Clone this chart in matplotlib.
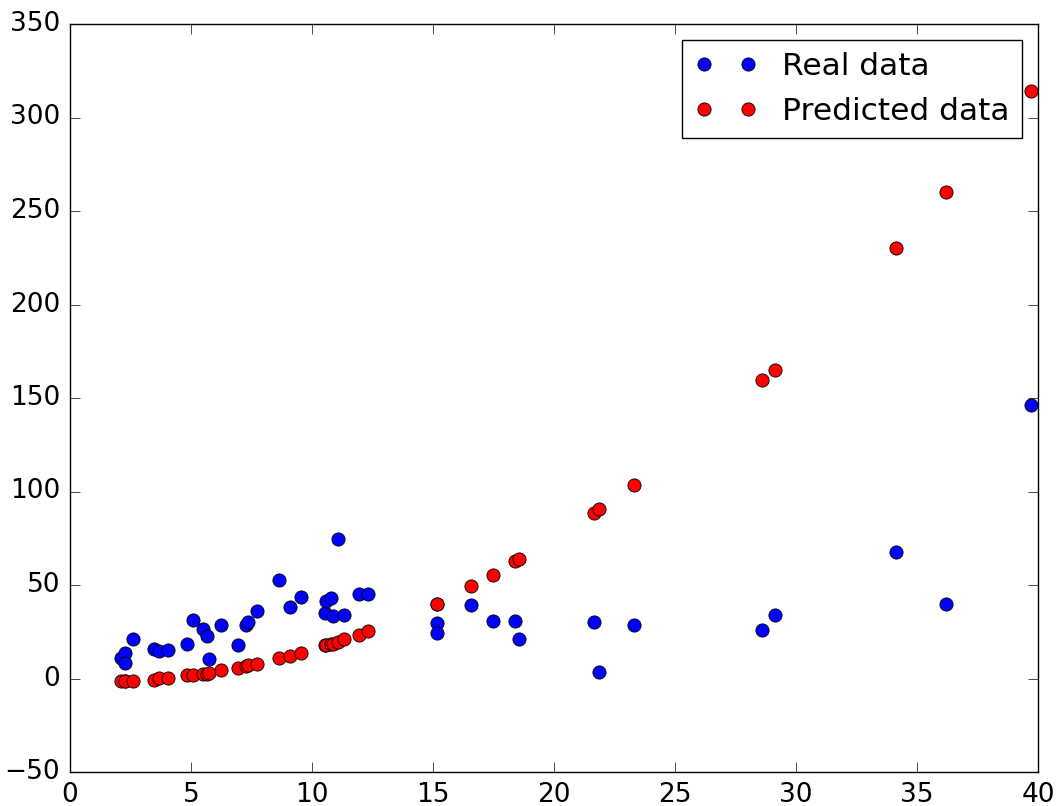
import matplotlib
matplotlib.use('Agg')
import matplotlib.pyplot as plt

plt.style.use('classic')

# x values of the samples
x_vals = [2.1, 2.27, 2.27, 2.59, 3.48, 3.69, 4.06, 4.82, 5.1, 5.48, 5.67, 5.74,
          6.24, 6.96, 7.27, 7.37, 7.74, 8.64, 9.09, 9.55, 10.54, 10.56, 10.77,
          10.85, 11.09, 11.34, 11.94, 12.3, 15.15, 15.15, 16.56, 17.47, 18.39,
          18.57, 21.65, 21.86, 23.32, 28.6, 29.13, 34.15, 36.2, 39.7]

# measured values
real_vals = [10.7, 13.9, 8.5, 21.2, 16.0, 14.6, 15.2, 18.7, 31.2, 26.6, 22.7, 10.2,
             28.7, 17.8, 28.5, 30.2, 36.0, 52.6, 38.4, 43.8, 35.1, 41.4, 43.0,
             33.4, 74.5, 33.7, 45.2, 45.2, 29.8, 24.5, 39.2, 31.0, 31.0,
             20.9, 30.3, 3.6, 28.5, 25.8, 33.7, 67.8, 40.1, 146.2]

# model output
pred_vals = [-1.2, -1.2, -1.2, -1.2, -0.8, 0.2, 0.5, 1.8, 1.9, 2.3, 2.6, 2.9,
             4.3, 5.7, 6.6, 7.0, 7.8, 11.0, 12.0, 13.7, 17.8, 17.9, 18.5,
             18.7, 19.4, 21.2, 23.5, 25.3, 40.1, 40.1, 49.4, 55.3, 62.8,
             63.7, 88.7, 90.5, 103.7, 159.5, 165.2, 230.3, 260.3, 314.4]

fig = plt.figure(figsize=(10.56, 8.06), dpi=100)
ax = fig.add_axes([70 / 1056, 34 / 806, 968 / 1056, 748 / 806])

ax.plot(x_vals, real_vals, 'bo', markersize=9.5, markeredgewidth=0.6, label='Real data')
ax.plot(x_vals, pred_vals, 'ro', markersize=9.5, markeredgewidth=0.6, label='Predicted data')

ax.set_xlim(0, 40)
ax.set_ylim(-50, 350)
ax.tick_params(labelsize=19, length=7, pad=7)

ax.legend(loc='upper right', numpoints=2, fontsize=22.5)

fig.savefig('out.png', dpi=100, facecolor='white')
